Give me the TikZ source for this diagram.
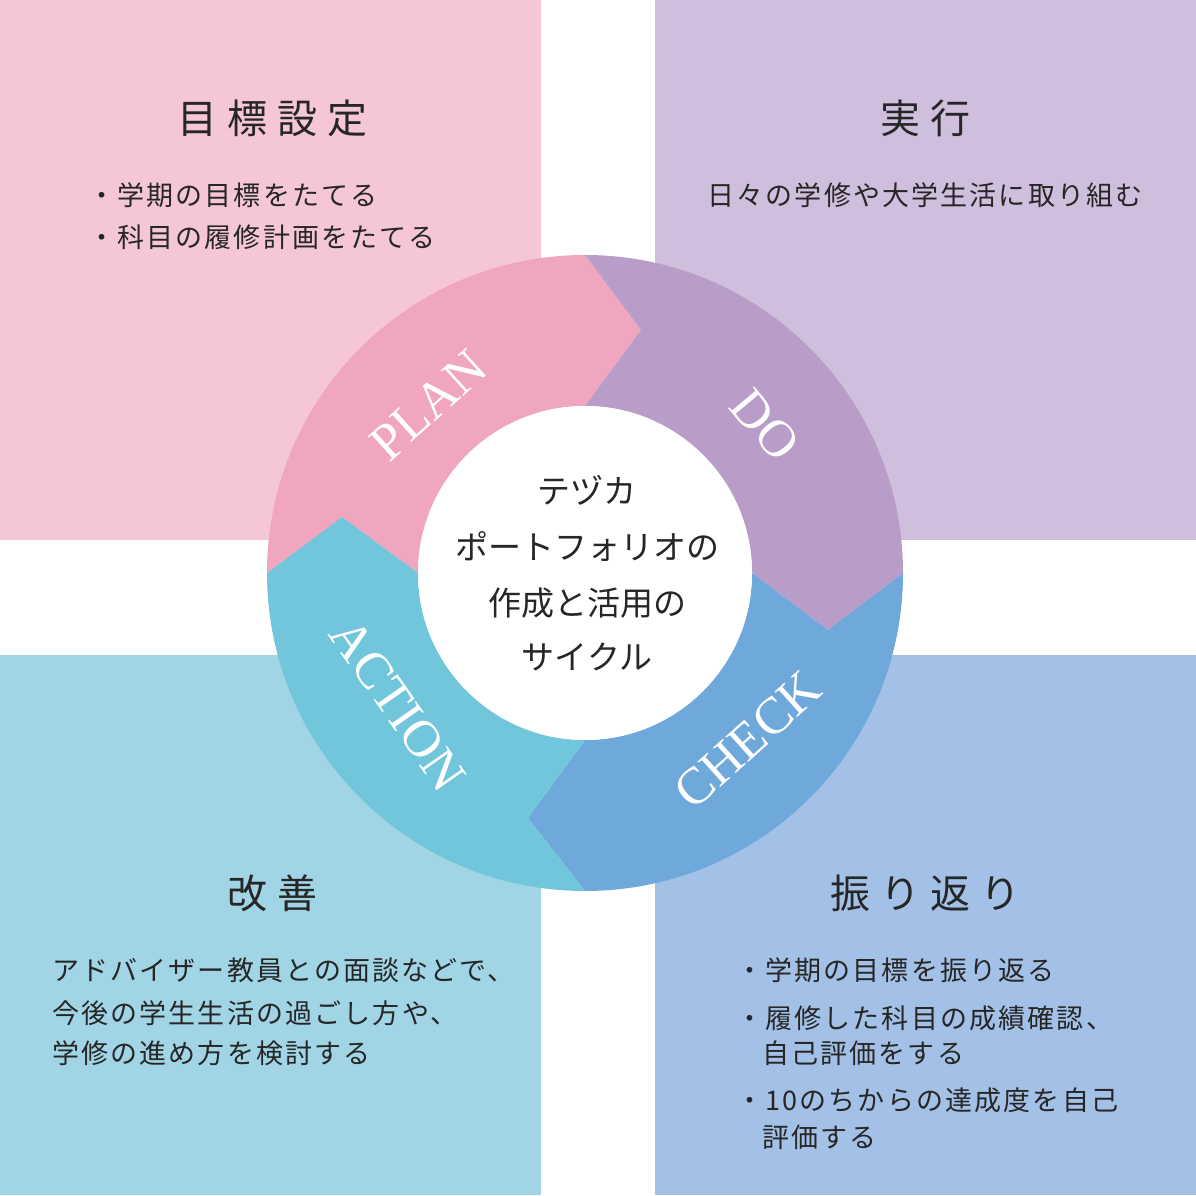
\documentclass[tikz,border=0pt]{standalone}
\usepackage{fontspec}
\setmainfont{Liberation Serif}
\newfontfamily\jp{Noto Sans CJK JP}
\newfontfamily\jpbody[LetterSpace=8]{Noto Sans CJK JP}
\definecolor{qpink}{HTML}{F5C7D6}
\definecolor{qpurple}{HTML}{D0BEDD}
\definecolor{qcyan}{HTML}{A1D5E5}
\definecolor{qblue}{HTML}{A3C1E6}
\definecolor{rplan}{HTML}{F0A6BE}
\definecolor{rdo}{HTML}{B89DC9}
\definecolor{rcheck}{HTML}{6FA8DA}
\definecolor{raction}{HTML}{72C6DB}
\begin{document}
\begin{tikzpicture}[x=1pt,y=1pt,
  title/.style={font=\jp\fontsize{40}{40}\selectfont, text=black!85},
  body/.style={font=\jpbody\fontsize{27}{27}\selectfont, text=black!85, inner sep=0pt},
  ringlbl/.style={font=\fontsize{52}{52}\selectfont, text=white},
  ctr/.style={font=\jp\fontsize{33}{33}\selectfont, text=black!85}]
\useasboundingbox (0,0) rectangle (1196,1195);
\fill[white] (0,0) rectangle (1196,1195);
\fill[qpink] (0,655) rectangle (541,1195);
\fill[qpurple] (655,655) rectangle (1196,1195);
\fill[qcyan] (0,0) rectangle (541,540);
\fill[qblue] (655,0) rectangle (1196,540);
% ring
\fill[rplan] (418,622) -- (342,678) -- (267,622) arc[start angle=180,end angle=90,radius=318] -- (641,865) -- (585,789) arc[start angle=90,end angle=180,radius=167] -- cycle;
\fill[rdo] (585,789) -- (641,865) -- (585,940) arc[start angle=90,end angle=0,radius=318] -- (828,565) -- (752,622) arc[start angle=0,end angle=90,radius=167] -- cycle;
\fill[rcheck] (752,622) -- (828,565) -- (903,622) arc[start angle=0,end angle=-90,radius=318] -- (528,377) -- (585,455) arc[start angle=-90,end angle=0,radius=167] -- cycle;
\fill[raction] (585,455) -- (528,377) -- (585,304) arc[start angle=270,end angle=180,radius=318] -- (342,678) -- (418,622) arc[start angle=180,end angle=270,radius=167] -- cycle;
\fill[white] (585,622) circle[radius=167];
\node[ringlbl, rotate=42] (plan) at (428,790) {PLAN};
\node[ringlbl, rotate=-50] (do) at (765,770) {DO};
\node[ringlbl, rotate=42] (check) at (748,455) {CHECK};
\node[ringlbl, rotate=-55] (action) at (398,490) {ACTION};
% center
\node[ctr] (c1) at (587,705) {テヅカ};
\node[ctr] (c2) at (587,648) {ポートフォリオの};
\node[ctr] (c3) at (587,592) {作成と活用の};
\node[ctr] (c4) at (587,538) {サイクル};
% titles
\node[title] (t1) at (272,1077) {目\hspace{10pt}標\hspace{10pt}設\hspace{10pt}定};
\node[title] (t2) at (925,1077) {実\hspace{10pt}行};
\node[title] (t3) at (272,302) {改\hspace{10pt}善};
\node[title] (t4) at (925,302) {振\hspace{10pt}り\hspace{10pt}返\hspace{10pt}り};
% bodies
\node[body, anchor=west] (a1) at (88,1000) {・学期の目標をたてる};
\node[body, anchor=west] (a2) at (88,958) {・科目の履修計画をたてる};
\node[body] (b1) at (925,1000) {日々の学修や大学生活に取り組む};
\node[body, anchor=west] (d1) at (52,225) {アドバイザー教員との面談などで、};
\node[body, anchor=west] (d2) at (52,182) {今後の学生生活の過ごし方や、};
\node[body, anchor=west] (d3) at (52,142) {学修の進め方を検討する};
\node[body, anchor=west] (e1) at (736,225) {・学期の目標を振り返る};
\node[body, anchor=west] (e2) at (736,177) {・履修した科目の成績確認、};
\node[body, anchor=west] (e3) at (762,142) {自己評価をする};
\node[body, anchor=west] (e4) at (736,95) {・10のちからの達成度を自己};
\node[body, anchor=west] (e5) at (762,58) {評価する};
\end{tikzpicture}
\end{document}
